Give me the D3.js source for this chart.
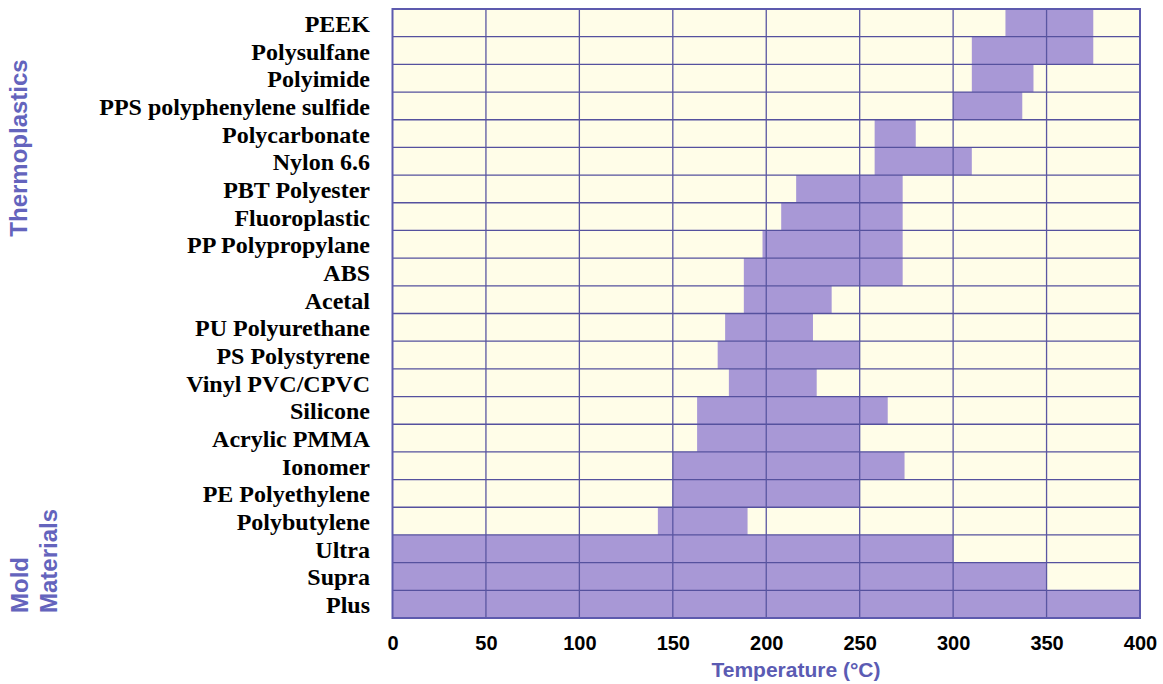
<!DOCTYPE html>
<html>
<head>
<meta charset="utf-8">
<script src="https://cdn.jsdelivr.net/npm/d3@7"></script>
<style>
  body { margin: 0; background: #fff; }
</style>
</head>
<body>
<div id="chart"></div>
<script>
const materials = [
  "PEEK", "Polysulfane", "Polyimide", "PPS polyphenylene sulfide", "Polycarbonate",
  "Nylon 6.6", "PBT Polyester", "Fluoroplastic", "PP Polypropylane", "ABS",
  "Acetal", "PU Polyurethane", "PS Polystyrene", "Vinyl PVC/CPVC", "Silicone",
  "Acrylic PMMA", "Ionomer", "PE Polyethylene", "Polybutylene",
  "Ultra", "Supra", "Plus"
];
const minTemp = [328, 310, 310, 300, 258, 258, 216, 208, 198, 188, 188, 178, 174, 180, 163, 163, 150, 150, 142, 0, 0, 0];
const maxTemp = [375, 375, 343, 337, 280, 310, 273, 273, 273, 273, 235, 225, 250, 227, 265, 250, 274, 250, 190, 300, 350, 400];
const xTicks = [0, 50, 100, 150, 200, 250, 300, 350, 400];
const groups = [
  { lines: ["Thermoplastics"] },
  { lines: ["Mold", "Materials"] }
];

const width = 1163, height = 684;
const margin = { top: 9, right: 23, bottom: 66, left: 392.5 };

const svg = d3.select("#chart")
  .append("svg")
  .attr("width", width)
  .attr("height", height);

const x = d3.scaleLinear()
  .domain([0, 400])
  .range([margin.left, width - margin.right]);

const y = d3.scaleBand()
  .domain(materials)
  .range([margin.top, height - margin.bottom]);

// background
svg.append("rect")
  .attr("x", x(0))
  .attr("y", y.range()[0])
  .attr("width", x(400) - x(0))
  .attr("height", y.range()[1] - y.range()[0])
  .style("fill", "#fffde8");

// bars
svg.selectAll("rect.bar")
  .data(materials)
  .enter()
  .append("rect")
  .attr("class", "bar")
  .attr("x", (d, i) => x(minTemp[i]))
  .attr("y", (d) => y(d))
  .attr("width", (d, i) => x(maxTemp[i]) - x(minTemp[i]))
  .attr("height", y.bandwidth())
  .style("fill", "#a898d6");

// horizontal grid
svg.selectAll("line.hgrid")
  .data(materials.slice(1))
  .enter()
  .append("line")
  .attr("class", "hgrid")
  .attr("x1", x(0))
  .attr("x2", x(400))
  .attr("y1", (d) => y(d))
  .attr("y2", (d) => y(d))
  .style("stroke", "#55519e")
  .style("stroke-width", 1.3);

// vertical grid
svg.selectAll("line.vgrid")
  .data(xTicks.slice(1, -1))
  .enter()
  .append("line")
  .attr("class", "vgrid")
  .attr("x1", (d) => x(d))
  .attr("x2", (d) => x(d))
  .attr("y1", y.range()[0])
  .attr("y2", y.range()[1])
  .style("stroke", "#5a56a2")
  .style("stroke-width", 1.3);

// border
svg.append("rect")
  .attr("x", x(0))
  .attr("y", y.range()[0])
  .attr("width", x(400) - x(0))
  .attr("height", y.range()[1] - y.range()[0])
  .style("fill", "none")
  .style("stroke", "#5d5aae")
  .style("stroke-width", 2);

// material labels
svg.selectAll("text.mat")
  .data(materials)
  .enter()
  .append("text")
  .attr("class", "mat")
  .attr("x", 370)
  .attr("y", (d) => y(d) + y.bandwidth() / 2 + 9)
  .text((d) => d)
  .style("text-anchor", "end")
  .style("font-family", "'Liberation Serif', 'Times New Roman', serif")
  .style("font-weight", "bold")
  .style("font-size", "24px")
  .style("fill", "#000");

// x axis tick labels
const xAxis = d3.axisBottom(x)
  .tickValues(xTicks)
  .tickSize(0)
  .tickPadding(0);

const axisG = svg.append("g")
  .attr("transform", `translate(0, ${height - margin.bottom})`)
  .call(xAxis);
axisG.select(".domain").remove();
axisG.selectAll("text")
  .attr("dy", null)
  .attr("y", 32)
  .style("font-family", "'Liberation Sans', Arial, sans-serif")
  .style("font-weight", "bold")
  .style("font-size", "20px")
  .style("fill", "#000");

svg.append("text")
  .attr("x", 796)
  .attr("y", 677)
  .text("Temperature (°C)")
  .style("text-anchor", "middle")
  .style("font-family", "'Liberation Sans', Arial, sans-serif")
  .style("font-weight", "bold")
  .style("font-size", "21px")
  .style("fill", "#5b5bb3");

// group labels
groups.forEach((g) => {
  g.lines.forEach((line, j) => {
    const t = svg.append("text")
      .text(line)
      .style("font-family", "'Liberation Sans', Arial, sans-serif")
      .style("font-weight", "bold")
      .style("font-size", "24px")
      .style("fill", "#6464bd");
    if (g.lines.length === 1) {
      t.attr("transform", "translate(27, 148) rotate(-90)")
        .style("text-anchor", "middle");
    } else {
      t.attr("transform", `translate(${28 + j * 29}, 613) rotate(-90)`)
        .style("text-anchor", "start");
    }
  });
});
</script>
</body>
</html>
